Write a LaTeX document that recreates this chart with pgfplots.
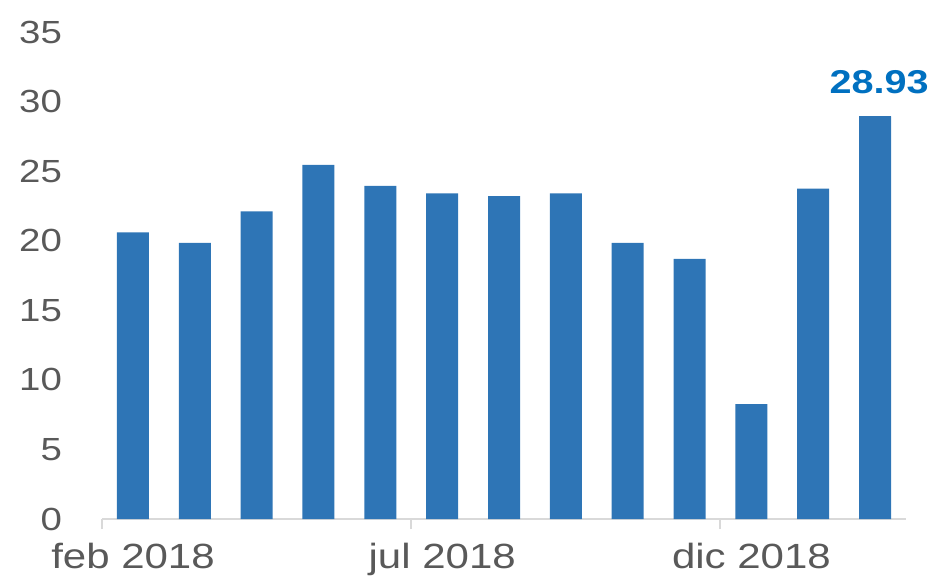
\documentclass[border=0pt]{standalone}
\usepackage{fontspec}
\setmainfont{Liberation Sans}[FakeStretch=1.2]
\usepackage{pgfplots}
\pgfplotsset{compat=1.18}
\definecolor{barc}{HTML}{2E75B6}
\definecolor{labc}{HTML}{0070C0}
\definecolor{txt}{HTML}{595959}
\definecolor{axc}{HTML}{D9D9D9}
\begin{document}
\begin{tikzpicture}[x=1pt,y=1pt]
\useasboundingbox (0,0) rectangle (466,287.5);
\begin{axis}[
  at={(51pt,28pt)}, anchor=south west,
  scale only axis, width=402pt, height=243.5pt,
  xmin=-0.5, xmax=12.5, ymin=0, ymax=35,
  axis x line*=bottom, axis y line*=left,
  y axis line style={draw=none},
  x axis line style={axc, line width=1pt, -},
  xtick={-0.5,4.5,9.5},
  xticklabels={feb 2018, jul 2018, dic 2018},
  xticklabel style={xshift=15.5pt, yshift=-3.5pt, font=\fontsize{17.5pt}{20pt}\selectfont},
  tick align=outside, major tick length=5pt,
  xtick style={axc, line width=1pt},
  ytick={0,5,...,35},
  ytick style={draw=none},
  yticklabel style={xshift=-11.5pt},
  ticklabel style={text=txt},
  /pgf/number format/assume math mode=true,
  font=\fontsize{16pt}{19pt}\selectfont,
  clip=false,
]
\addplot[ybar, bar width=16pt, fill=barc, draw=none] coordinates {
 (0,20.6) (1,19.85) (2,22.1) (3,25.45) (4,23.95) (5,23.4) (6,23.2)
 (7,23.4) (8,19.85) (9,18.7) (10,8.25) (11,23.75) (12,28.93)
};
\addplot[ybar, bar width=16pt, fill=barc, draw=none,
  nodes near coords, point meta=y,
  nodes near coords style={text=labc, font=\fontsize{16.5pt}{19pt}\selectfont\bfseries, yshift=8pt, xshift=2pt,
    /pgf/number format/.cd, fixed, precision=2, fixed zerofill}] coordinates {(12,28.93)};
\end{axis}
\end{tikzpicture}
\end{document}
